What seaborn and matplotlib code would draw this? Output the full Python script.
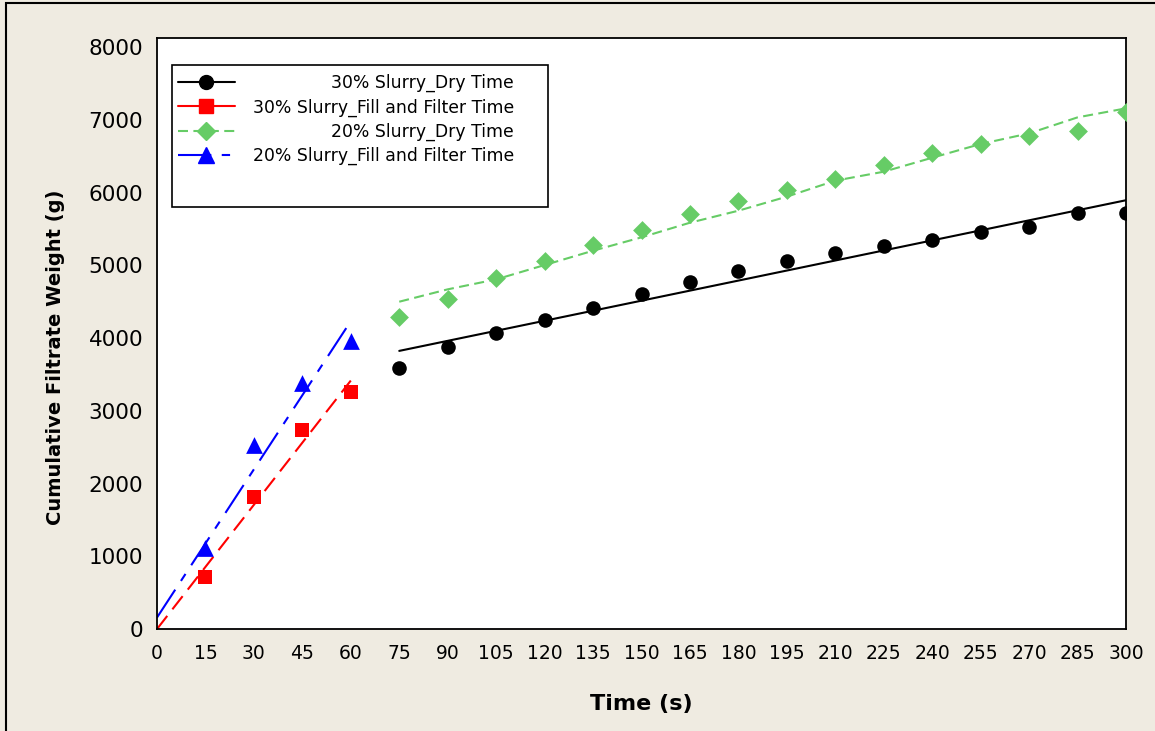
import pandas as pd
import seaborn as sns
import matplotlib
matplotlib.use("Agg")
from matplotlib import pyplot as plt
from matplotlib.lines import Line2D
from matplotlib.patches import Rectangle

# time stamps (s)
time_fill = [15, 30, 45, 60]
time_dry = [75, 90, 105, 120, 135, 150, 165, 180, 195, 210, 225, 240, 255, 270, 285, 300]

# cumulative filtrate weight (g)
w30_fill = [720, 1820, 2735, 3262]
w20_fill = [1109, 2529, 3377, 3959]
w30_dry = [3592, 3880, 4064, 4247, 4408, 4600, 4770, 4925, 5058, 5164,
           5269, 5347, 5453, 5530, 5714, 5714]
w20_dry = [4284, 4536, 4829, 5058, 5278, 5485, 5700, 5883, 6034, 6186,
           6378, 6538, 6667, 6781, 6850, 7102]
# smoothed curve drawn through the 20% dry-time points
w20_dry_smooth = [4499, 4669, 4806, 5003, 5200, 5384, 5585, 5750, 5943, 6163,
                  6286, 6478, 6667, 6813, 7033, 7157]

labels = ["30% Slurry_Dry Time", "30% Slurry_Fill and Filter Time",
          "20% Slurry_Dry Time", "20% Slurry_Fill and Filter Time"]

BG = "#efebe1"
GREEN = "#66cc66"

# the fill-stage fits start from the origin
fill30 = pd.DataFrame({"t": [0] + time_fill, "w": [0] + w30_fill})
fill20 = pd.DataFrame({"t": [0] + time_fill, "w": [0] + w20_fill})
dry = pd.DataFrame({"t": time_dry, "w30": w30_dry, "w20": w20_dry, "smooth": w20_dry_smooth})

sns.set_style("white")
plt.rcParams["font.family"] = ["DejaVu Sans"]
plt.rcParams["text.color"] = "black"
plt.rcParams["axes.labelcolor"] = "black"
plt.rcParams["xtick.color"] = "black"
plt.rcParams["ytick.color"] = "black"

fig = plt.figure(figsize=(11.55, 7.31), dpi=100, facecolor=BG)
ax = fig.add_axes([157 / 1155, 1 - 629 / 731, 969 / 1155, 591 / 731])
ax.set_facecolor("white")

# fitted lines
sns.regplot(data=dry, x="t", y="w30", scatter=False, ci=None, ax=ax,
            line_kws={"color": "black", "lw": 1.5})
sns.regplot(data=fill30, x="t", y="w", scatter=False, ci=None, ax=ax,
            line_kws={"color": "red", "lw": 1.5, "dashes": (8, 4)})
sns.regplot(data=fill20, x="t", y="w", scatter=False, ci=None, ax=ax,
            line_kws={"color": "blue", "lw": 1.5, "dashes": (16, 5, 4, 5)})
sns.lineplot(data=dry, x="t", y="smooth", color=GREEN, lw=1.5,
             linestyle=(0, (4.8, 2.6)), ax=ax)

# points
sns.scatterplot(x=time_dry, y=w30_dry, marker="o", s=110, color="black", linewidth=0, ax=ax, zorder=3)
sns.scatterplot(x=time_fill, y=w30_fill, marker="s", s=95, color="red", linewidth=0, ax=ax, zorder=3)
sns.scatterplot(x=time_dry, y=w20_dry, marker="D", s=92, color=GREEN, linewidth=0, ax=ax, zorder=3)
sns.scatterplot(x=time_fill, y=w20_fill, marker="^", s=145, color="blue", linewidth=0, ax=ax, zorder=3)

ax.set_xlim(0, 300)
ax.set_ylim(0, 8124)
ax.set_xticks(range(0, 301, 15))
ax.set_yticks(range(0, 8001, 1000))
ax.tick_params(axis="both", direction="out", length=6, width=1.2, color="black")
ax.tick_params(axis="y", labelsize=15.5, pad=4)
ax.tick_params(axis="x", labelsize=13.5, pad=5)
for sp in ax.spines.values():
    sp.set_color("black")
    sp.set_linewidth(1.3)

ax.set_xlabel("Time (s)", fontsize=16, fontweight="bold")
ax.set_ylabel("Cumulative Filtrate Weight (g)", fontsize=14, fontweight="bold")
ax.xaxis.set_label_coords(0.5, -0.11)
ax.yaxis.set_label_coords(-0.095, 0.46)

# legend: handles from matplotlib, labels right-aligned inside a fixed box
handles = [
    Line2D([], [], color="black", lw=1.5, marker="o", ms=10),
    Line2D([], [], color="red", lw=1.5, marker="s", ms=9.5),
    Line2D([], [], color=GREEN, lw=1.5, ls=(0, (4.8, 2.6)), marker="D", ms=9.5),
    Line2D([], [], color="blue", lw=1.5, dashes=(16, 5, 4, 5), marker="^", ms=12),
]
ax.add_patch(Rectangle((0.0155, 0.714), 0.388, 0.2403, transform=ax.transAxes,
                       fill=False, ec="black", lw=1.2, zorder=4))
leg = ax.legend(handles, labels, loc="upper left", bbox_to_anchor=(0.0217, 0.939),
                frameon=False, fontsize=12.4, handlelength=3.3, handletextpad=1.3,
                labelspacing=0.35, borderaxespad=0, borderpad=0)
fig.canvas.draw()
inv = ax.transAxes.inverted()
x_right = (514 - 157) / 969
for t, lab in zip(leg.get_texts(), labels):
    bb = t.get_window_extent()
    yc = inv.transform((0, (bb.y0 + bb.y1) / 2))[1]
    t.set_visible(False)
    ax.text(x_right, yc, lab, transform=ax.transAxes, ha="right", va="center",
            fontsize=12.4, zorder=5)

# outer frame of the graph window
fig.add_artist(Rectangle((6 / 1155, -0.05), 1.1, 1.05 - 3 / 731, transform=fig.transFigure,
                         fill=False, ec="black", lw=1.5))

fig.savefig("out.png", dpi=100, facecolor=BG)
